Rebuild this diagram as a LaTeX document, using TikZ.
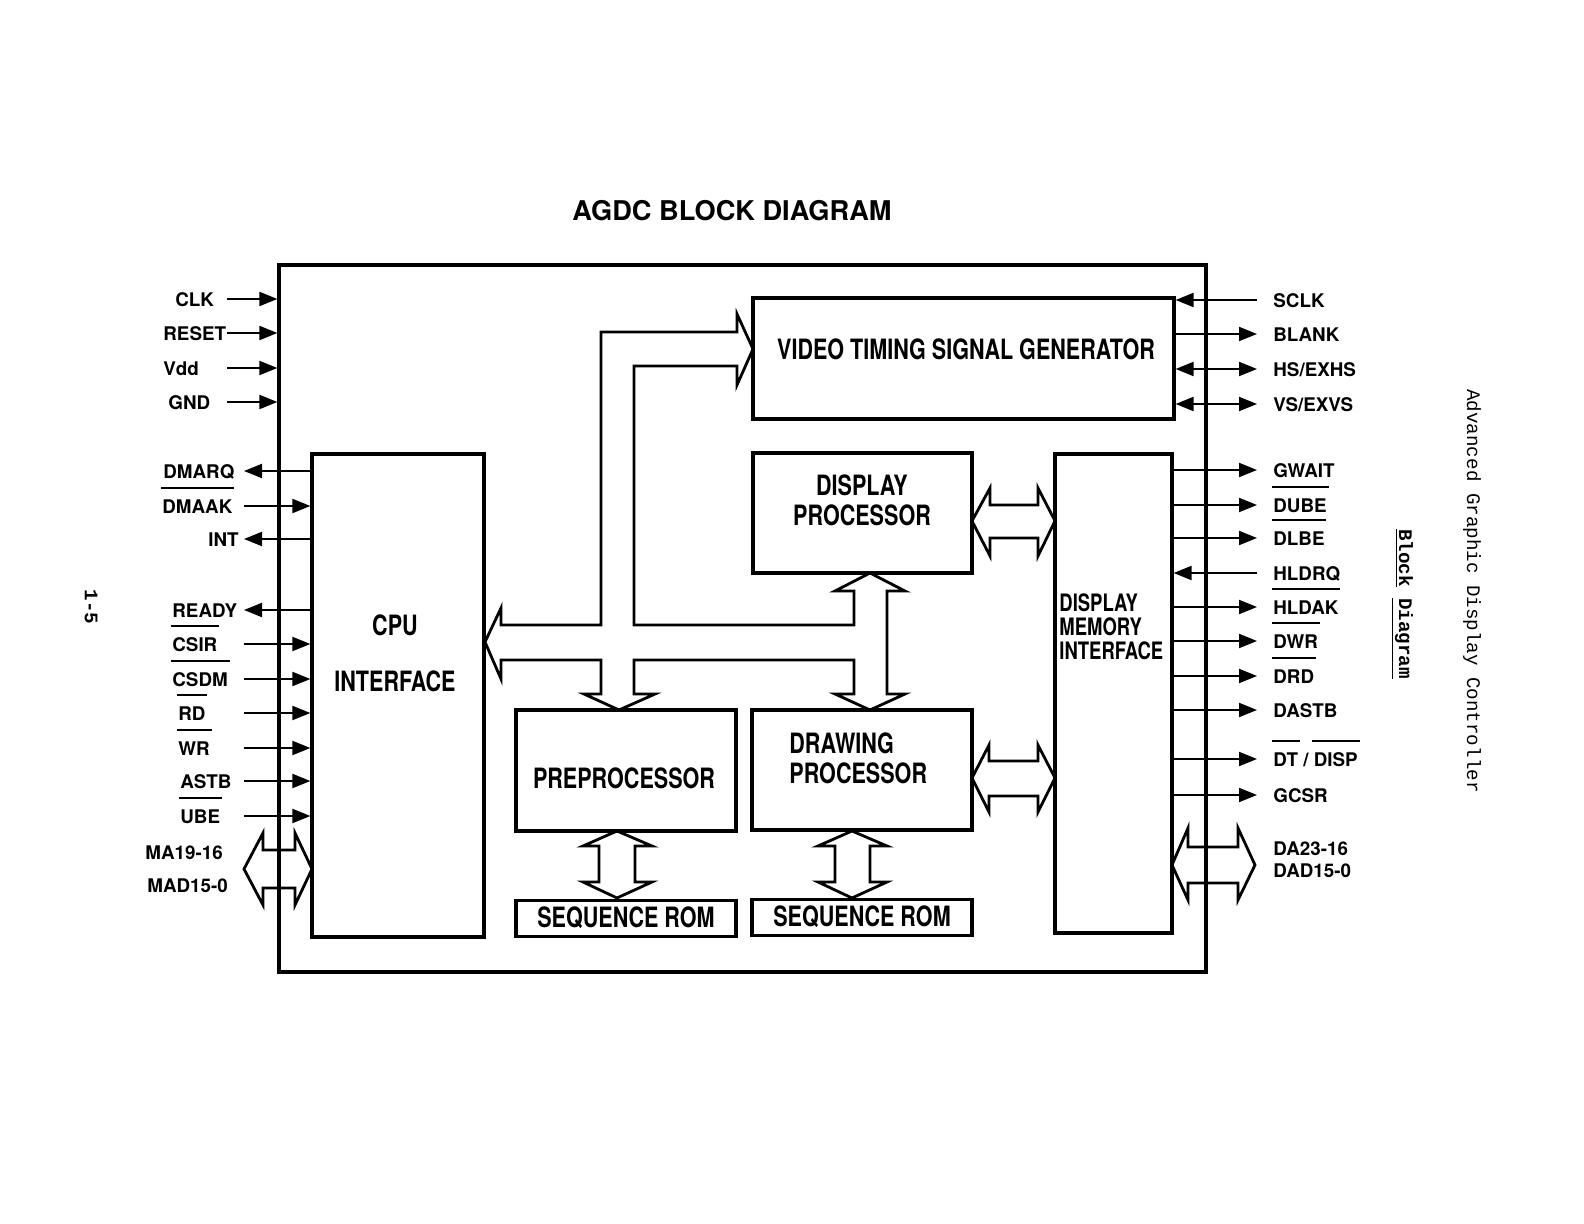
\documentclass[tikz,border=0pt]{standalone}
\usepackage{fontspec}
\setmainfont{TeX Gyre Heros}
\newfontfamily\blockfont{TeX Gyre Heros}[FakeStretch=0.77]
\newfontfamily\typefont{Liberation Mono}
\usetikzlibrary{positioning,arrows.meta}
% bar over active-low pin names
\newcommand{\actlow}[1]{\setbox0\hbox{#1}\rlap{\kern-0.1em\rule[1.28em]{\dimexpr\wd0+0.2em\relax}{0.9pt}}\box0\relax}

\begin{document}
\begin{tikzpicture}[x=0.5pt, y=-0.5pt,
  box/.style={draw, line width=1.6pt, inner sep=0pt},
  blk/.style={font=\blockfont\bfseries\fontsize{14}{15}\selectfont, inner sep=0pt, align=center},
  lbl/.style={font=\bfseries\fontsize{9.4}{11}\selectfont, inner sep=0pt, anchor=west, text height=0.72em, text depth=0pt},
  sig/.style={line width=1pt, -{Triangle[length=9pt, width=7pt]}},
  sigb/.style={line width=1pt, {Triangle[length=9pt, width=7pt]}-{Triangle[length=9pt, width=7pt]}},
  bus/.style={draw, line width=1.4pt, line join=miter},
  tw/.style={font=\typefont\fontsize{9.6}{11}\selectfont, rotate=-90, inner sep=0pt}]
  \useasboundingbox (0,0) rectangle (1584,1224);

  \node[font=\bfseries\fontsize{13.6}{16}\selectfont] (title) at (732,211) {AGDC BLOCK DIAGRAM};

  % blocks
  \node[box, minimum width=463.5pt, minimum height=353.5pt] (chip) at (742.5,618.5) {};
  \node[box, minimum width=86pt, minimum height=241.5pt] (cpu) at (398,695.5) {};
  \node[box, minimum width=210.5pt, minimum height=60.5pt] (vtsg) at (963.5,358.5) {};
  \node[box, minimum width=109.5pt, minimum height=60pt] (dp) at (862.5,513) {};
  \node[box, minimum width=58.5pt, minimum height=239.5pt] (dmi) at (1113.5,693.5) {};
  \node[box, minimum width=110pt, minimum height=60.5pt] (pre) at (626,770.5) {};
  \node[box, minimum width=110pt, minimum height=60pt] (drw) at (862,770) {};
  \node[box, minimum width=110pt, minimum height=18pt, below=33pt of pre] (rom1) {};
  \node[box, minimum width=110pt, minimum height=18pt, below=33pt of drw] (rom2) {};

  \node[blk] (cputxt) at (395,653) {CPU\\[13pt]INTERFACE};
  \node[blk] (vtsgtxt) at (966,349) {VIDEO TIMING SIGNAL GENERATOR};
  \node[blk] (dptxt) at (862,500) {DISPLAY\\PROCESSOR};
  \node[blk, align=left, anchor=west] (drwtxt) at (789,758) {DRAWING\\PROCESSOR};
  \node[blk] (pretxt) at (624,778) {PREPROCESSOR};
  \node[blk] (rom1txt) at (rom1) {SEQUENCE ROM};
  \node[blk] (rom2txt) at (rom2) {SEQUENCE ROM};
  \node[blk, align=left, anchor=west, font=\blockfont\bfseries\fontsize{12}{12}\selectfont] (dmitxt) at (1059,627) {DISPLAY\\MEMORY\\INTERFACE};

  % internal buses
  \draw[bus] (601,625) -- (501,625) -- (501,608) -- (485,642) -- (501,679) -- (501,660)
    -- (601,660) -- (601,694) -- (584,694) -- (619,710) -- (655,694) -- (634,694)
    -- (634,660) -- (854,660) -- (854,694) -- (835,694) -- (870,710) -- (905,694)
    -- (887,694) -- (887,591) -- (905,591) -- (870,573) -- (835,591) -- (854,591)
    -- (854,625) -- (634,625) -- (634,366) -- (737,366) -- (737,385) -- (753,349)
    -- (737,314) -- (737,332) -- (601,332) -- cycle;
  \draw[bus] (972,521) -- (990,488) -- (990,505) -- (1038,505) -- (1038,488) -- (1055,521)
    -- (1038,556) -- (1038,538) -- (990,538) -- (990,556) -- cycle;
  \draw[bus] (972,778) -- (989,745) -- (989,761) -- (1038,761) -- (1038,745) -- (1055,778)
    -- (1038,812) -- (1038,796) -- (989,796) -- (989,812) -- cycle;
  \draw[bus] (617,831) -- (652,846) -- (635,846) -- (635,882) -- (652,882) -- (617,898)
    -- (583,882) -- (599,882) -- (599,846) -- (583,846) -- cycle;
  \draw[bus] (852,831) -- (887,846) -- (870,846) -- (870,882) -- (887,882) -- (852,898)
    -- (818,882) -- (835,882) -- (835,846) -- (818,846) -- cycle;

  % left pins
  \coordinate (colA) at (227,0);
  \coordinate (colB) at (244,0);
  \node[lbl] (clk) at (175,299) {CLK};
  \node[lbl] (reset) at (163,333) {RESET};
  \node[lbl] (vdd) at (163,368) {Vdd};
  \node[lbl] (gnd) at (168,402) {GND};
  \node[lbl] (dmarq) at (163,471) {DMARQ};
  \node[lbl] (dmaak) at (162,506) {\actlow{DMAAK}};
  \node[lbl] (int) at (208,539) {INT};
  \node[lbl] (ready) at (172,610) {READY};
  \node[lbl] (csir) at (172,644) {\actlow{CSIR}};
  \node[lbl] (csdm) at (172,679) {\actlow{CSDM}};
  \node[lbl] (rd) at (178,713) {\actlow{RD}};
  \node[lbl] (wr) at (178,748) {\actlow{WR}};
  \node[lbl] (astb) at (180,781) {ASTB};
  \node[lbl] (ube) at (180,816) {\actlow{UBE}};
  \node[lbl] (ma) at (145,852) {MA19-16};
  \node[lbl] (mad) at (147,885) {MAD15-0};
  \draw[sig] (colA |- clk) -- (chip.west |- clk);
  \draw[sig] (colA |- reset) -- (chip.west |- reset);
  \draw[sig] (colA |- vdd) -- (chip.west |- vdd);
  \draw[sig] (colA |- gnd) -- (chip.west |- gnd);
  \draw[sig] (cpu.west |- dmarq) -- (colB |- dmarq);
  \draw[sig] (colB |- dmaak) -- (cpu.west |- dmaak);
  \draw[sig] (cpu.west |- int) -- (colB |- int);
  \draw[sig] (cpu.west |- ready) -- (colB |- ready);
  \draw[sig] (colB |- csir) -- (cpu.west |- csir);
  \draw[sig] (colB |- csdm) -- (cpu.west |- csdm);
  \draw[sig] (colB |- rd) -- (cpu.west |- rd);
  \draw[sig] (colB |- wr) -- (cpu.west |- wr);
  \draw[sig] (colB |- astb) -- (cpu.west |- astb);
  \draw[sig] (colB |- ube) -- (cpu.west |- ube);
  \draw[bus] (244,869) -- (263,833) -- (263,850) -- (295,850) -- (295,833) -- (312,869)
    -- (295,905) -- (295,888) -- (263,888) -- (263,905) -- cycle;

  % right pins
  \coordinate (colR) at (1257,0);
  \node[lbl] (sclk) at (1273,300) {SCLK};
  \node[lbl] (blank) at (1273,334) {BLANK};
  \node[lbl] (hs) at (1273,369) {HS/EXHS};
  \node[lbl] (vs) at (1273,404) {VS/EXVS};
  \node[lbl] (gwait) at (1273,470) {GWAIT};
  \node[lbl] (dube) at (1273,505) {\actlow{DUBE}};
  \node[lbl] (dlbe) at (1273,538) {\actlow{DLBE}};
  \node[lbl] (hldrq) at (1273,573) {HLDRQ};
  \node[lbl] (hldak) at (1273,607) {\actlow{HLDAK}};
  \node[lbl] (dwr) at (1273,641) {\actlow{DWR}};
  \node[lbl] (drd) at (1273,676) {\actlow{DRD}};
  \node[lbl] (dastb) at (1273,710) {DASTB};
  \node[lbl] (dtdisp) at (1273,759) {\actlow{DT}\ / \actlow{DISP}};
  \node[lbl] (gcsr) at (1273,795) {GCSR};
  \node[lbl] (da) at (1273,848) {DA23-16};
  \node[lbl] (dad) at (1273,870) {DAD15-0};
  \draw[sig] (colR |- sclk) -- (vtsg.east |- sclk);
  \draw[sig] (vtsg.east |- blank) -- (colR |- blank);
  \draw[sigb] (vtsg.east |- hs) -- (colR |- hs);
  \draw[sigb] (vtsg.east |- vs) -- (colR |- vs);
  \draw[sig] (dmi.east |- gwait) -- (colR |- gwait);
  \draw[sig] (dmi.east |- dube) -- (colR |- dube);
  \draw[sig] (dmi.east |- dlbe) -- (colR |- dlbe);
  \draw[sig] (colR |- hldrq) -- (dmi.east |- hldrq);
  \draw[sig] (dmi.east |- hldak) -- (colR |- hldak);
  \draw[sig] (dmi.east |- dwr) -- (colR |- dwr);
  \draw[sig] (dmi.east |- drd) -- (colR |- drd);
  \draw[sig] (dmi.east |- dastb) -- (colR |- dastb);
  \draw[sig] (dmi.east |- dtdisp) -- (colR |- dtdisp);
  \draw[sig] (dmi.east |- gcsr) -- (colR |- gcsr);
  \draw[bus] (1172,865) -- (1188,828) -- (1188,847) -- (1238,847) -- (1238,828) -- (1255,865)
    -- (1238,900) -- (1238,883) -- (1188,883) -- (1188,900) -- cycle;

  % page margin texts
  \node[tw] (doctitle) at (1472,591) {Advanced Graphic Display Controller};
  \node[tw, font=\typefont\bfseries\fontsize{9.6}{11}\selectfont] (section) at (1402,604) {\underline{Block} \underline{Diagram}};
  \node[tw, font=\typefont\bfseries\fontsize{9.6}{11}\selectfont] (page) at (91,607) {1-5};
\end{tikzpicture}
\end{document}
